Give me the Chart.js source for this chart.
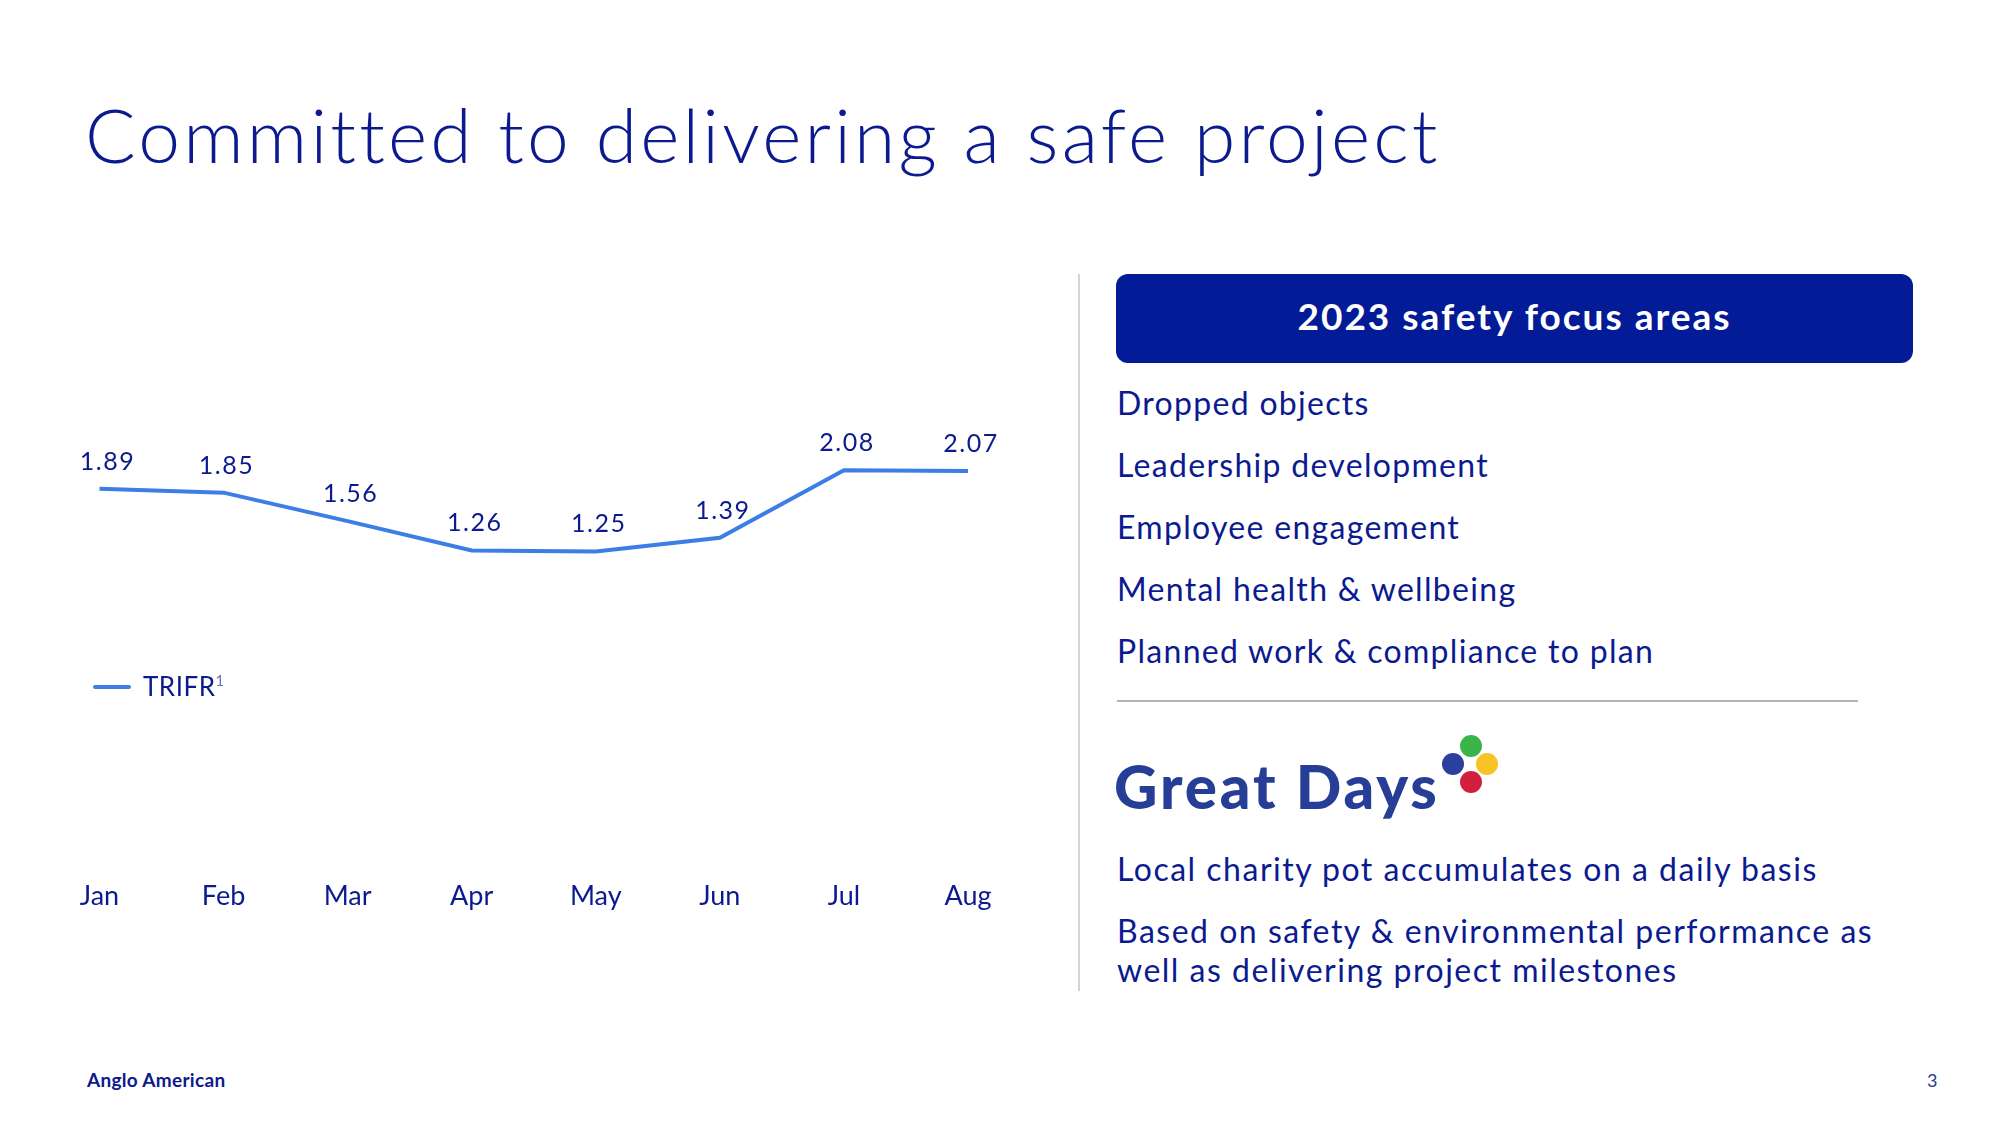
<!DOCTYPE html>
<html lang="en">
<head>
    <meta charset="UTF-8">
    <title>Committed to delivering a safe project</title>
    <script src="https://cdn.jsdelivr.net/npm/chart.js"></script>
    <style>
        body {
            margin: 0;
            width: 2000px;
            height: 1125px;
            background: #ffffff;
            font-family: Lato, "Noto Sans", sans-serif;
            color: #0b1b8f;
            position: relative;
            overflow: hidden;
        }
        .abs { position: absolute; white-space: nowrap; }
        .title {
            left: 85px; top: 97px;
            font-size: 75px; line-height: 75px;
            font-weight: 300;
            letter-spacing: 3.2px;
        }
        .chart-box {
            position: absolute;
            left: 0; top: 399px;
            width: 1060px; height: 543px;
        }
        .legend {
            left: 93px; top: 663px;
            font-size: 26px; line-height: 34px;
            letter-spacing: 0.5px;
        }
        .legend .swatch {
            display: inline-block;
            width: 38px; height: 4px;
            background: #3c7de6;
            border-radius: 2px;
            vertical-align: middle;
            margin-right: 12px;
            position: relative; top: -2px;
        }
        .legend sup { font-size: 15px; color: #6a72b8; }
        .vline {
            position: absolute;
            left: 1078px; top: 274px;
            width: 2px; height: 717px;
            background: #d4d4d4;
        }
        .focus-head {
            position: absolute;
            left: 1116px; top: 274px;
            width: 797px; height: 89px;
            background: #031b96;
            border-radius: 12px;
            color: #ffffff;
            font-size: 37px;
            font-weight: 700;
            letter-spacing: 2px;
            text-align: center;
            line-height: 84px;
        }
        .items {
            left: 1117px; top: 372px;
            font-size: 32px; line-height: 62px;
            letter-spacing: 1.3px;
        }
        .hline {
            position: absolute;
            left: 1117px; top: 700px;
            width: 741px; height: 2px;
            background: #b4b4b4;
        }
        .great {
            left: 1114px; top: 756px;
            font-size: 60px; line-height: 60px;
            font-weight: 900;
            color: #263e96;
            letter-spacing: 2.9px;
        }
        .dot { position: absolute; width: 22px; height: 22px; border-radius: 50%; }
        .notes {
            left: 1117px; top: 849px;
            font-size: 32px; line-height: 39.5px;
            letter-spacing: 1.5px;
        }
        .footer {
            left: 87px; top: 1069px;
            font-size: 19px; line-height: 22px;
            font-weight: 700;
            letter-spacing: 0.3px;
        }
        .page {
            left: 1927px; top: 1069px;
            font-size: 18px; line-height: 22px;
            color: #2a3590;
        }
    </style>
</head>
<body>
    <div class="abs title">Committed to delivering a safe project</div>

    <div class="chart-box"><canvas id="trifrChart"></canvas></div>
    <div class="abs legend"><span class="swatch"></span>TRIFR<sup>1</sup></div>

    <div class="vline"></div>
    <div class="focus-head">2023 safety focus areas</div>
    <div class="abs items">
        Dropped objects<br>
        Leadership development<br>
        Employee engagement<br>
        Mental health &amp; wellbeing<br>
        Planned work &amp; compliance to plan
    </div>
    <div class="hline"></div>

    <div class="abs great">Great Days</div>
    <div class="dot" style="left:1460px; top:735px; background:#3bb54a;"></div>
    <div class="dot" style="left:1442px; top:753px; background:#2b3f9e;"></div>
    <div class="dot" style="left:1476px; top:753px; background:#f7c325;"></div>
    <div class="dot" style="left:1460px; top:771px; background:#d21f3c;"></div>

    <div class="abs notes">
        Local charity pot accumulates on a daily basis<br>
        <div style="height:22px"></div>
        Based on safety &amp; environmental performance as<br>
        well as delivering project milestones
    </div>

    <div class="abs footer">Anglo American</div>
    <div class="abs page">3</div>

    <script>
        const months = ['Jan', 'Feb', 'Mar', 'Apr', 'May', 'Jun', 'Jul', 'Aug'];
        const trifr = [1.89, 1.85, 1.56, 1.26, 1.25, 1.39, 2.08, 2.07];
        const seriesName = 'TRIFR';

        const navy = '#0b1b8f';
        const lineBlue = '#3c7de6';

        // value labels above each point
        const valueLabels = {
            id: 'valueLabels',
            afterDatasetsDraw(chart) {
                const ctx = chart.ctx;
                const meta = chart.getDatasetMeta(0);
                ctx.save();
                ctx.font = '25px Lato, "Noto Sans", sans-serif';
                ctx.letterSpacing = '1.5px';
                ctx.fillStyle = navy;
                ctx.textAlign = 'center';
                ctx.textBaseline = 'alphabetic';
                meta.data.forEach((pt, i) => {
                    const shift = i === 0 ? 8 : 3;
                    ctx.fillText(trifr[i].toFixed(2), pt.x + shift, pt.y - 19);
                });
                ctx.restore();
            }
        };

        new Chart(document.getElementById('trifrChart'), {
            type: 'line',
            data: {
                labels: months,
                datasets: [{
                    label: seriesName,
                    data: trifr,
                    borderColor: lineBlue,
                    borderWidth: 4,
                    pointRadius: 0,
                    tension: 0,
                    fill: false,
                    clip: false
                }]
            },
            options: {
                responsive: true,
                maintainAspectRatio: false,
                animation: false,
                layout: {
                    padding: { left: 99.5, right: 92, top: 30, bottom: 30 }
                },
                plugins: {
                    legend: { display: false },
                    tooltip: { enabled: false }
                },
                scales: {
                    x: {
                        offset: false,
                        grid: { display: false, drawTicks: false },
                        border: { display: false },
                        ticks: {
                            color: navy,
                            padding: 0,
                            font: { family: 'Lato', size: 27 }
                        }
                    },
                    y: {
                        display: false,
                        min: -2.1,
                        max: 2.5
                    }
                }
            },
            plugins: [valueLabels]
        });
    </script>
</body>
</html>
